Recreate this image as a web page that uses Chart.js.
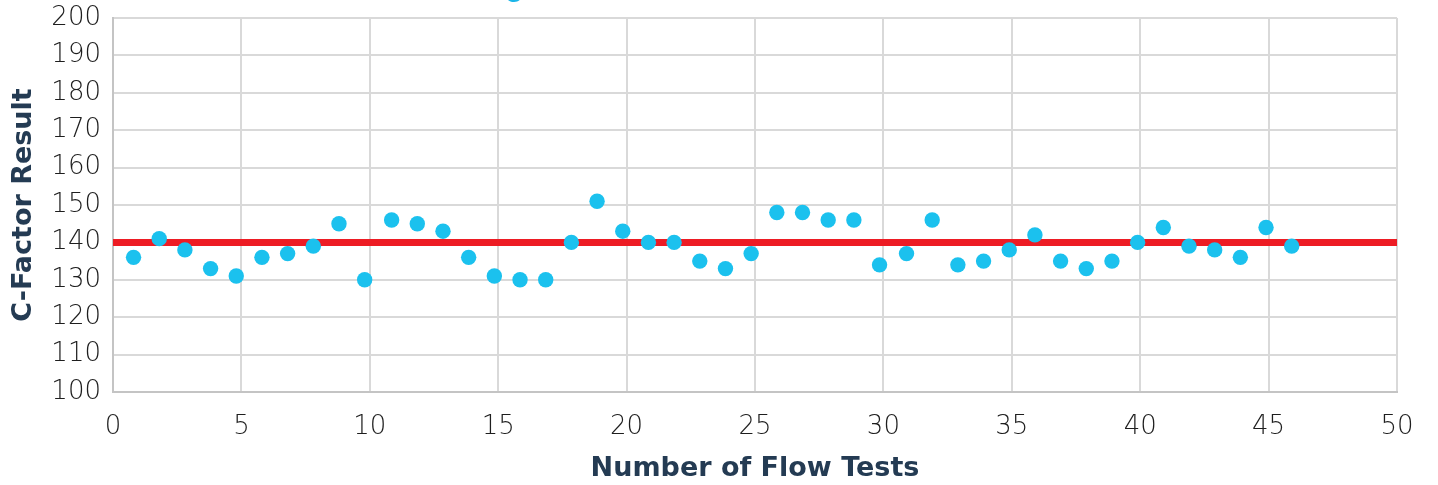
<!DOCTYPE html>
<html lang="en">
<head>
    <meta charset="UTF-8">
    <title>C-Factor Results</title>
    <script src="https://cdn.jsdelivr.net/npm/chart.js"></script>
    <style>
        body { margin: 0; background: #ffffff; }
        /* fixed box the size of the screenshot */
        .chart-box { position: relative; width: 1438px; height: 485px; }
    </style>
</head>
<body>
<div class="chart-box">
    <canvas id="cfChart"></canvas>
</div>

<script>
    // Flow test number (markers sit a little left of whole numbers)
    const testNumbers = [
        0.8, 1.8, 2.8, 3.8, 4.8, 5.8, 6.8, 7.8, 8.8, 9.8,
        10.85, 11.85, 12.85, 13.85, 14.85, 15.85, 16.85, 17.85, 18.85, 19.85,
        20.85, 21.85, 22.85, 23.85, 24.85, 25.85, 26.85, 27.85, 28.85, 29.85,
        30.9, 31.9, 32.9, 33.9, 34.9, 35.9, 36.9, 37.9, 38.9, 39.9,
        40.9, 41.9, 42.9, 43.9, 44.9, 45.9
    ];
    // C-factor result per test
    const cFactors = [
        136, 141, 138, 133, 131, 136, 137, 139, 145, 130,
        146, 145, 143, 136, 131, 130, 130, 140, 151, 143,
        140, 140, 135, 133, 137, 148, 148, 146, 146, 134,
        137, 146, 134, 135, 138, 142, 135, 133, 135, 140,
        144, 139, 138, 136, 144, 139
    ];
    // target line
    const targetX = [0, 50];
    const targetY = [140, 140];

    const tickFont = { family: 'DejaVu Sans', size: 26, weight: 200 };
    const titleFont = { family: 'DejaVu Sans', size: 27, weight: 'bold' };

    // cyan title above the plot, mostly cut off by the top edge
    const topTitle = {
        id: 'topTitle',
        afterDraw(chart) {
            const ctx = chart.ctx;
            ctx.save();
            ctx.font = '30px Lato';
            ctx.fillStyle = '#1BB5E8';
            ctx.textAlign = 'right';
            ctx.textBaseline = 'alphabetic';
            ctx.fillText('Flow Testing', 522, -3);
            ctx.restore();
        }
    };

    const ctx = document.getElementById('cfChart').getContext('2d');
    new Chart(ctx, {
        type: 'scatter',
        data: {
            datasets: [
                {
                    label: 'C-Factor',
                    data: testNumbers.map((x, i) => ({ x: x, y: cFactors[i] })),
                    backgroundColor: '#1BC1EE',
                    borderWidth: 0,
                    pointRadius: 7.7,
                    pointHoverRadius: 7.7
                },
                {
                    label: 'Target',
                    data: targetX.map((x, i) => ({ x: x, y: targetY[i] })),
                    showLine: true,
                    borderColor: '#ED1C24',
                    borderWidth: 7,
                    pointRadius: 0,
                    borderCapStyle: 'butt'
                }
            ]
        },
        options: {
            responsive: true,
            maintainAspectRatio: false,
            animation: false,
            layout: { padding: { top: 18, right: 41, left: 8, bottom: 0 } },
            plugins: {
                legend: { display: false },
                tooltip: { enabled: false }
            },
            scales: {
                x: {
                    type: 'linear',
                    min: 0,
                    max: 50,
                    ticks: { stepSize: 5, color: '#1E1E1E', font: tickFont, padding: 20, maxRotation: 0 },
                    grid: { color: '#D9D9D9', lineWidth: 2, drawTicks: false },
                    border: { color: '#C4C4C4', width: 2 },
                    title: { display: true, text: 'Number of Flow Tests', color: '#243B53', font: titleFont, padding: { top: 15, bottom: 0 } },
                    afterFit(scale) { scale.height = 93; }
                },
                y: {
                    min: 100,
                    max: 200,
                    ticks: { stepSize: 10, color: '#1E1E1E', font: tickFont, padding: 12 },
                    grid: { color: '#D9D9D9', lineWidth: 2, drawTicks: false },
                    border: { color: '#C4C4C4', width: 2 },
                    title: { display: true, text: 'C-Factor Result', color: '#243B53', font: titleFont, padding: 0 },
                    afterFit(scale) {
                        scale.width = 105;
                        // let layout padding alone set the top of the plot
                        scale.paddingTop = 0;
                        scale.paddingBottom = 0;
                    }
                }
            }
        },
        plugins: [topTitle]
    });
</script>
</body>
</html>
